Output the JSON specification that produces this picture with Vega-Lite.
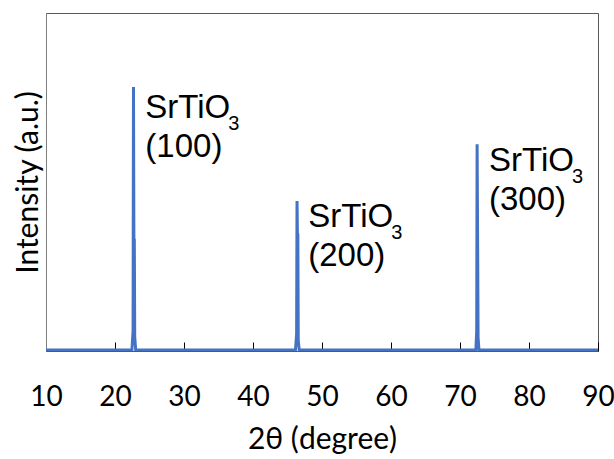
{
  "$schema": "https://vega.github.io/schema/vega-lite/v6.json",
  "autosize": "none",
  "width": 552,
  "height": 338,
  "padding": {"left": 46, "top": 13, "right": 16, "bottom": 108},
  "background": "white",
  "config": {
    "view": {"stroke": "#595959", "strokeWidth": 1},
    "axis": {"grid": false}
  },
  "datasets": {
    "peakLabels": [
      {"theta": 24.4, "intensity": 68.9, "name": "SrTiO\n(100)", "sub": "3"},
      {"theta": 48.0, "intensity": 36.7, "name": "SrTiO\n(200)", "sub": "3"},
      {"theta": 74.2, "intensity": 53.3, "name": "SrTiO\n(300)", "sub": "3"}
    ]
  },
  "layer": [
    {
      "data": {
        "values": [
          {"theta": 10, "intensity": 0.3},
          {"theta": 22.45, "intensity": 0.3},
          {"theta": 22.62, "intensity": 6},
          {"theta": 22.68, "intensity": 78.1},
          {"theta": 22.74, "intensity": 32.8},
          {"theta": 22.8, "intensity": 32.8},
          {"theta": 22.86, "intensity": 4},
          {"theta": 23.0, "intensity": 0.3},
          {"theta": 46.15, "intensity": 0.3},
          {"theta": 46.32, "intensity": 5},
          {"theta": 46.38, "intensity": 44.4},
          {"theta": 46.44, "intensity": 34.3},
          {"theta": 46.5, "intensity": 34.3},
          {"theta": 46.56, "intensity": 3},
          {"theta": 46.7, "intensity": 0.3},
          {"theta": 72.3, "intensity": 0.3},
          {"theta": 72.42, "intensity": 6},
          {"theta": 72.48, "intensity": 61.2},
          {"theta": 72.56, "intensity": 30},
          {"theta": 72.62, "intensity": 4},
          {"theta": 72.75, "intensity": 0.3},
          {"theta": 90, "intensity": 0.3}
        ]
      },
      "mark": {"type": "line", "color": "#4472C4", "strokeWidth": 3, "clip": true},
      "encoding": {
        "x": {
          "field": "theta",
          "type": "quantitative",
          "scale": {"domain": [10, 90], "nice": false, "zero": false},
          "axis": {
            "title": "2θ (degree)",
            "values": [10, 20, 30, 40, 50, 60, 70, 80, 90],
            "tickSize": -9,
            "tickColor": "#000000",
            "tickWidth": 1,
            "domainColor": "#595959",
            "labelFont": "Lato",
            "labelFontSize": 28,
            "labelColor": "#000000",
            "labelPadding": 41,
            "labelFlush": false,
            "titleFont": "Lato",
            "titleFontSize": 30,
            "titleFontWeight": "normal",
            "titleColor": "#000000",
            "titlePadding": 13
          }
        },
        "y": {
          "field": "intensity",
          "type": "quantitative",
          "scale": {"domain": [0, 100], "nice": false},
          "axis": {
            "title": "Intensity (a.u.)",
            "labels": false,
            "ticks": false,
            "domainColor": "#7f7f7f",
            "titleFont": "Lato",
            "titleFontSize": 30,
            "titleFontWeight": "normal",
            "titleColor": "#000000",
            "titlePadding": 3
          }
        }
      }
    },
    {
      "data": {"name": "peakLabels"},
      "mark": {
        "type": "text",
        "font": "Liberation Sans",
        "fontSize": 33,
        "align": "left",
        "baseline": "alphabetic",
        "lineBreak": "\n",
        "lineHeight": 39,
        "color": "#000000"
      },
      "encoding": {
        "x": {"field": "theta", "type": "quantitative"},
        "y": {"field": "intensity", "type": "quantitative"},
        "text": {"field": "name"}
      }
    },
    {
      "data": {"name": "peakLabels"},
      "mark": {
        "type": "text",
        "font": "Liberation Sans",
        "fontSize": 20,
        "align": "left",
        "baseline": "alphabetic",
        "dx": 83,
        "dy": 12,
        "color": "#000000"
      },
      "encoding": {
        "x": {"field": "theta", "type": "quantitative"},
        "y": {"field": "intensity", "type": "quantitative"},
        "text": {"field": "sub"}
      }
    }
  ]
}
